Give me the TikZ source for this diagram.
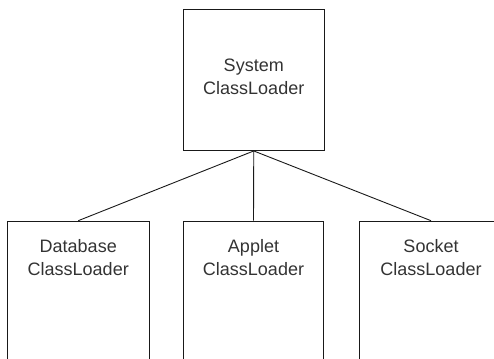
\documentclass[tikz,border=0pt]{standalone}
\usepackage{fontspec}
\setmainfont{Liberation Sans}
\begin{document}
\begin{tikzpicture}[x=1pt,y=1pt,
  box/.style={draw=black!90,line width=0.9pt,rectangle,inner sep=0pt},
  lbl/.style={font=\fontsize{18}{23}\selectfont,text=black!80,align=center,inner sep=0pt,anchor=base},
  link/.style={draw=black!90,line width=0.9pt}]
\useasboundingbox (0,0) rectangle (494,358);
\clip (0,0) rectangle (494,358);
% top box
\node[box,minimum width=140.5pt,minimum height=141pt] (sys) at (253.75,278) {};
\node[lbl] (syst) at (253.75,263) {System\\ClassLoader};
% bottom boxes (open at bottom, clipped)
\node[box,minimum width=141.5pt,minimum height=200pt,anchor=north] (db) at (78.25,137.3) {};
\node[box,minimum width=140pt,minimum height=200pt,anchor=north] (ap) at (253.5,137.3) {};
\node[box,minimum width=144pt,minimum height=200pt,anchor=north] (so) at (431,137.3) {};
\node[lbl] (dbt) at (78.25,82) {Database\\ClassLoader};
\node[lbl] (apt) at (253.5,82) {Applet\\ClassLoader};
\node[lbl] (sot) at (431,82) {Socket\\ClassLoader};
% connectors
\draw[link] (sys.south) -- (db.north);
\draw[link] (sys.south) -- (ap.north);
\draw[link] (sys.south) -- (so.north);
\end{tikzpicture}
\end{document}
